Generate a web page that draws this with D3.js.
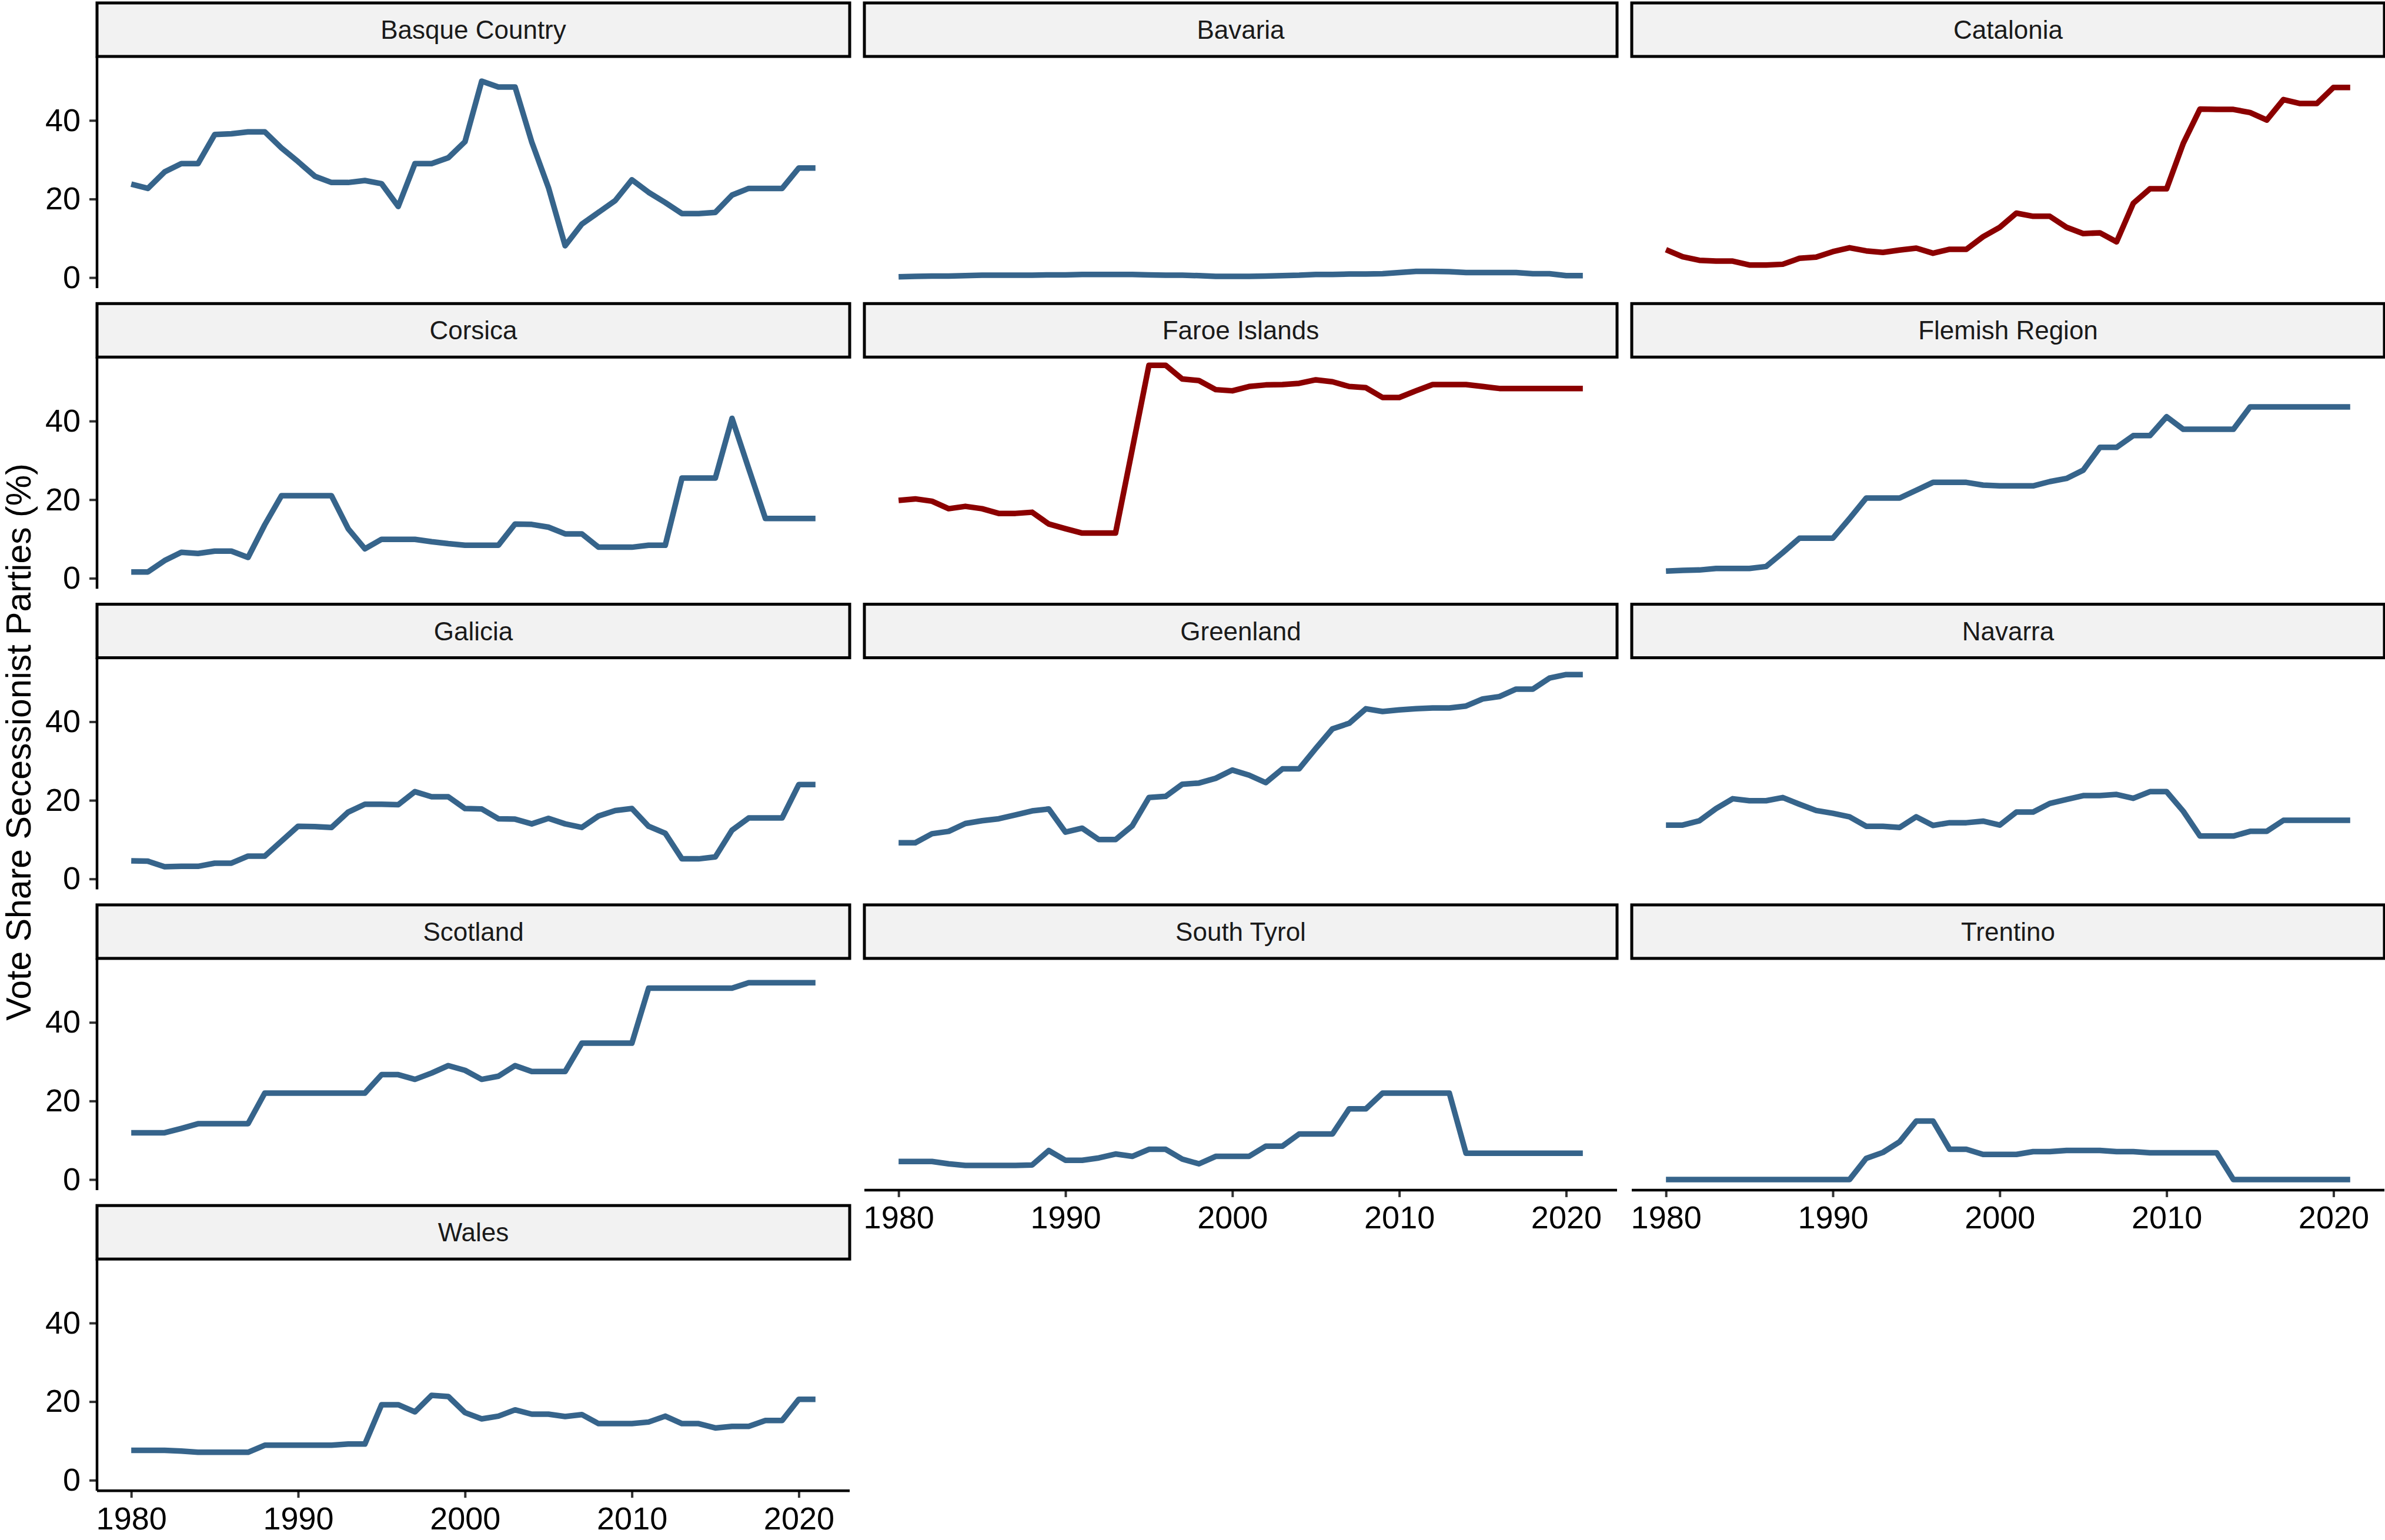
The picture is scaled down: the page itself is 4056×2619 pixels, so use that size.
<!DOCTYPE html>
<html><head><meta charset="utf-8">
<script src="https://cdn.jsdelivr.net/npm/d3@7"></script>
<style>html,body{margin:0;padding:0;background:#fff;} svg{display:block;}</style>
</head><body>
<script>
// ---------------- DATA ----------------
const years = [1980,1981,1982,1983,1984,1985,1986,1987,1988,1989,
               1990,1991,1992,1993,1994,1995,1996,1997,1998,1999,
               2000,2001,2002,2003,2004,2005,2006,2007,2008,2009,
               2010,2011,2012,2013,2014,2015,2016,2017,2018,2019,
               2020,2021];
const regions = ["Basque Country","Bavaria","Catalonia","Corsica","Faroe Islands","Flemish Region",
                 "Galicia","Greenland","Navarra","Scotland","South Tyrol","Trentino","Wales"];
const highlighted = ["Catalonia","Faroe Islands"];
const xTicks = [1980,1990,2000,2010,2020];
const yTicks = [0,20,40];
const yAxisTitle = "Vote Share Secessionist Parties (%)";

const basqueCountry = [23.8,22.7,26.9,29.0,29.0,36.4,36.6,37.1,37.1,33.0,
                       29.5,25.8,24.2,24.2,24.7,23.9,18.1,29.0,29.0,30.5,
                       34.6,50.0,48.5,48.5,34.5,22.9,8.1,13.6,16.6,19.6,
                       24.9,21.7,19.1,16.3,16.3,16.6,21.0,22.7,22.7,22.7,
                       27.9,27.9];
const bavaria = [0.2,0.3,0.4,0.4,0.5,0.6,0.6,0.6,0.6,0.7,
                 0.7,0.8,0.8,0.8,0.8,0.7,0.6,0.6,0.5,0.3,
                 0.3,0.3,0.4,0.5,0.6,0.8,0.8,0.9,0.9,1.0,
                 1.3,1.6,1.6,1.5,1.3,1.3,1.3,1.3,1.0,1.0,
                 0.5,0.5];
const catalonia = [7.1,5.3,4.4,4.2,4.2,3.2,3.2,3.4,4.9,5.2,
                   6.6,7.6,6.8,6.4,7.0,7.5,6.2,7.2,7.2,10.4,
                   12.8,16.4,15.6,15.6,12.8,11.2,11.4,9.1,18.9,22.6,
                   22.6,34.2,42.9,42.8,42.8,42.0,40.1,45.3,44.3,44.3,
                   48.4,48.4];
const corsica = [1.6,1.6,4.5,6.6,6.3,6.9,6.9,5.3,13.6,21.0,
                 21.0,21.0,21.0,12.6,7.5,9.9,9.9,9.9,9.3,8.8,
                 8.4,8.4,8.4,13.8,13.7,13.0,11.3,11.3,7.9,7.9,
                 7.9,8.4,8.4,25.5,25.5,25.5,40.7,27.9,15.2,15.2,
                 15.2,15.2];
const faroeIslands = [19.8,20.2,19.6,17.7,18.3,17.7,16.5,16.5,16.8,13.8,
                      12.6,11.5,11.5,11.5,32.8,54.2,54.2,50.7,50.3,48.0,
                      47.7,48.8,49.2,49.3,49.6,50.5,50.0,48.8,48.5,46.0,
                      46.0,47.7,49.3,49.3,49.3,48.8,48.3,48.3,48.3,48.3,
                      48.3,48.3];
const flemishRegion = [1.8,2.0,2.1,2.5,2.5,2.5,3.0,6.5,10.2,10.2,
                       10.2,15.2,20.4,20.4,20.4,22.4,24.4,24.4,24.4,23.7,
                       23.5,23.5,23.5,24.6,25.4,27.5,33.3,33.3,36.3,36.3,
                       41.1,37.9,37.9,37.9,37.9,43.6,43.6,43.6,43.6,43.6,
                       43.6,43.6];
const galicia = [4.6,4.5,3.1,3.2,3.2,4.0,4.0,5.8,5.8,9.6,
                 13.4,13.3,13.1,17.0,19.0,19.0,18.9,22.2,20.9,20.9,
                 17.9,17.8,15.3,15.2,14.0,15.4,14.0,13.1,16.0,17.4,
                 17.9,13.4,11.6,5.1,5.1,5.6,12.4,15.5,15.5,15.5,
                 24.0,24.0];
const greenland = [9.2,9.2,11.5,12.1,14.1,14.8,15.3,16.3,17.3,17.8,
                   11.9,12.9,10.0,10.0,13.5,20.7,21.0,24.1,24.4,25.6,
                   27.7,26.4,24.5,28.0,28.0,33.2,38.2,39.6,43.3,42.6,
                   43.0,43.3,43.5,43.5,44.0,45.8,46.4,48.3,48.3,51.1,
                   52.0,52.0];
const navarra = [13.7,13.7,14.8,17.9,20.4,19.9,19.9,20.7,19.0,17.4,
                 16.7,15.8,13.4,13.4,13.1,15.8,13.6,14.3,14.3,14.7,
                 13.7,17.0,17.0,19.2,20.2,21.2,21.2,21.5,20.5,22.2,
                 22.2,17.2,10.9,10.9,10.9,12.1,12.1,14.9,14.9,14.9,
                 14.9,14.9];
const scotland = [11.9,11.9,11.9,13.0,14.2,14.2,14.2,14.2,22.0,22.0,
                  22.0,22.0,22.0,22.0,22.0,26.7,26.7,25.5,27.1,29.0,
                  27.8,25.5,26.3,29.0,27.5,27.5,27.5,34.7,34.7,34.7,
                  34.7,48.7,48.7,48.7,48.7,48.7,48.7,50.1,50.1,50.1,
                  50.1,50.1];
const southTyrol = [4.6,4.6,4.6,4.0,3.6,3.6,3.6,3.6,3.7,7.4,
                    4.9,4.9,5.5,6.5,5.9,7.7,7.7,5.2,4.0,5.9,
                    5.9,5.9,8.5,8.5,11.6,11.6,11.6,18.0,18.0,22.0,
                    22.0,22.0,22.0,22.0,6.7,6.7,6.7,6.7,6.7,6.7,
                    6.7,6.7];
const trentino = [0,0,0,0,0,0,0,0,0,0,
                  0,0,5.4,6.9,9.6,14.9,14.9,7.7,7.7,6.4,
                  6.4,6.4,7.1,7.1,7.4,7.4,7.4,7.1,7.1,6.8,
                  6.8,6.8,6.8,6.8,0,0,0,0,0,0,
                  0,0];
const wales = [7.6,7.6,7.6,7.4,7.1,7.1,7.1,7.1,8.9,8.9,
               8.9,8.9,8.9,9.2,9.2,19.2,19.2,17.4,21.6,21.3,
               17.2,15.6,16.3,17.9,16.8,16.8,16.2,16.7,14.4,14.4,
               14.4,14.8,16.3,14.4,14.4,13.3,13.7,13.7,15.2,15.2,
               20.6,20.6];

const seriesList = [basqueCountry,bavaria,catalonia,corsica,faroeIslands,flemishRegion,
                    galicia,greenland,navarra,scotland,southTyrol,trentino,wales];

// ---------------- LAYOUT ----------------
const W = 4056, H = 2619;
const FONT = "'Liberation Sans', Arial, Helvetica, sans-serif";
const nCol = 3;
const colX = [165, 1470, 2775];
const panelW = 1280, panelH = 394;
const firstTop = 96, rowPitch = 511.3, stripH = 91;
const BLUE = "#36648B", RED = "#8B0000";

const svg = d3.select("body").append("svg")
  .attr("width", W).attr("height", H)
  .style("font-family", FONT);
svg.append("rect").attr("width", W).attr("height", H).attr("fill", "#fff");

const x = d3.scaleLinear().domain([1977.95, 2023.05]).range([0, panelW]);
const y = d3.scaleLinear().domain([-2.68, 56.28]).range([panelH, 0]);

const line = d3.line()
  .x((d, i) => x(years[i]))
  .y(d => y(d));

regions.forEach((name, i) => {
  const col = i % nCol, row = Math.floor(i / nCol);
  const g = svg.append("g")
    .attr("transform", `translate(${colX[col]},${firstTop + row * rowPitch})`);

  // strip
  g.append("rect")
    .attr("x", 0).attr("y", -stripH)
    .attr("width", panelW).attr("height", stripH)
    .attr("fill", "#F2F2F2").attr("stroke", "#000").attr("stroke-width", 5);
  g.append("text")
    .attr("x", panelW / 2).attr("y", -stripH / 2 + 15.5)
    .attr("text-anchor", "middle")
    .attr("font-size", 44).attr("fill", "#1A1A1A")
    .text(name);

  // y axis (first column)
  if (col === 0) {
    const ya = g.append("g").call(d3.axisLeft(y).tickValues(yTicks).tickSize(13).tickPadding(15));
    ya.select(".domain").remove();
    ya.selectAll(".tick line").attr("stroke", "#333").attr("stroke-width", 4);
    ya.selectAll(".tick text").attr("font-size", 54).attr("fill", "#000").attr("font-family", FONT);
    g.append("line").attr("x1", 0).attr("x2", 0).attr("y1", 0).attr("y2", panelH)
      .attr("stroke", "#000").attr("stroke-width", 4.5);
  }
  // x axis (last panel of each column)
  if (i + nCol >= regions.length) {
    const xa = g.append("g").attr("transform", `translate(0,${panelH})`)
      .call(d3.axisBottom(x).tickValues(xTicks).tickFormat(d3.format("d")).tickSize(12).tickPadding(15));
    xa.select(".domain").remove();
    xa.selectAll(".tick line").attr("stroke", "#333").attr("stroke-width", 4);
    xa.selectAll(".tick text").attr("font-size", 54).attr("fill", "#000").attr("font-family", FONT);
    g.append("line").attr("x1", 0).attr("x2", panelW).attr("y1", panelH).attr("y2", panelH)
      .attr("stroke", "#000").attr("stroke-width", 4.5);
  }

  // series line
  g.append("path")
    .datum(seriesList[i])
    .attr("d", line)
    .attr("fill", "none")
    .attr("stroke", highlighted.includes(name) ? RED : BLUE)
    .attr("stroke-width", 9.5)
    .attr("stroke-linejoin", "round")
    .attr("stroke-linecap", "butt");
});

// y axis title
svg.append("text")
  .attr("transform", "translate(52,1262) rotate(-90)")
  .attr("text-anchor", "middle")
  .attr("font-size", 59)
  .attr("fill", "#000")
  .text(yAxisTitle);
</script>
</body></html>
